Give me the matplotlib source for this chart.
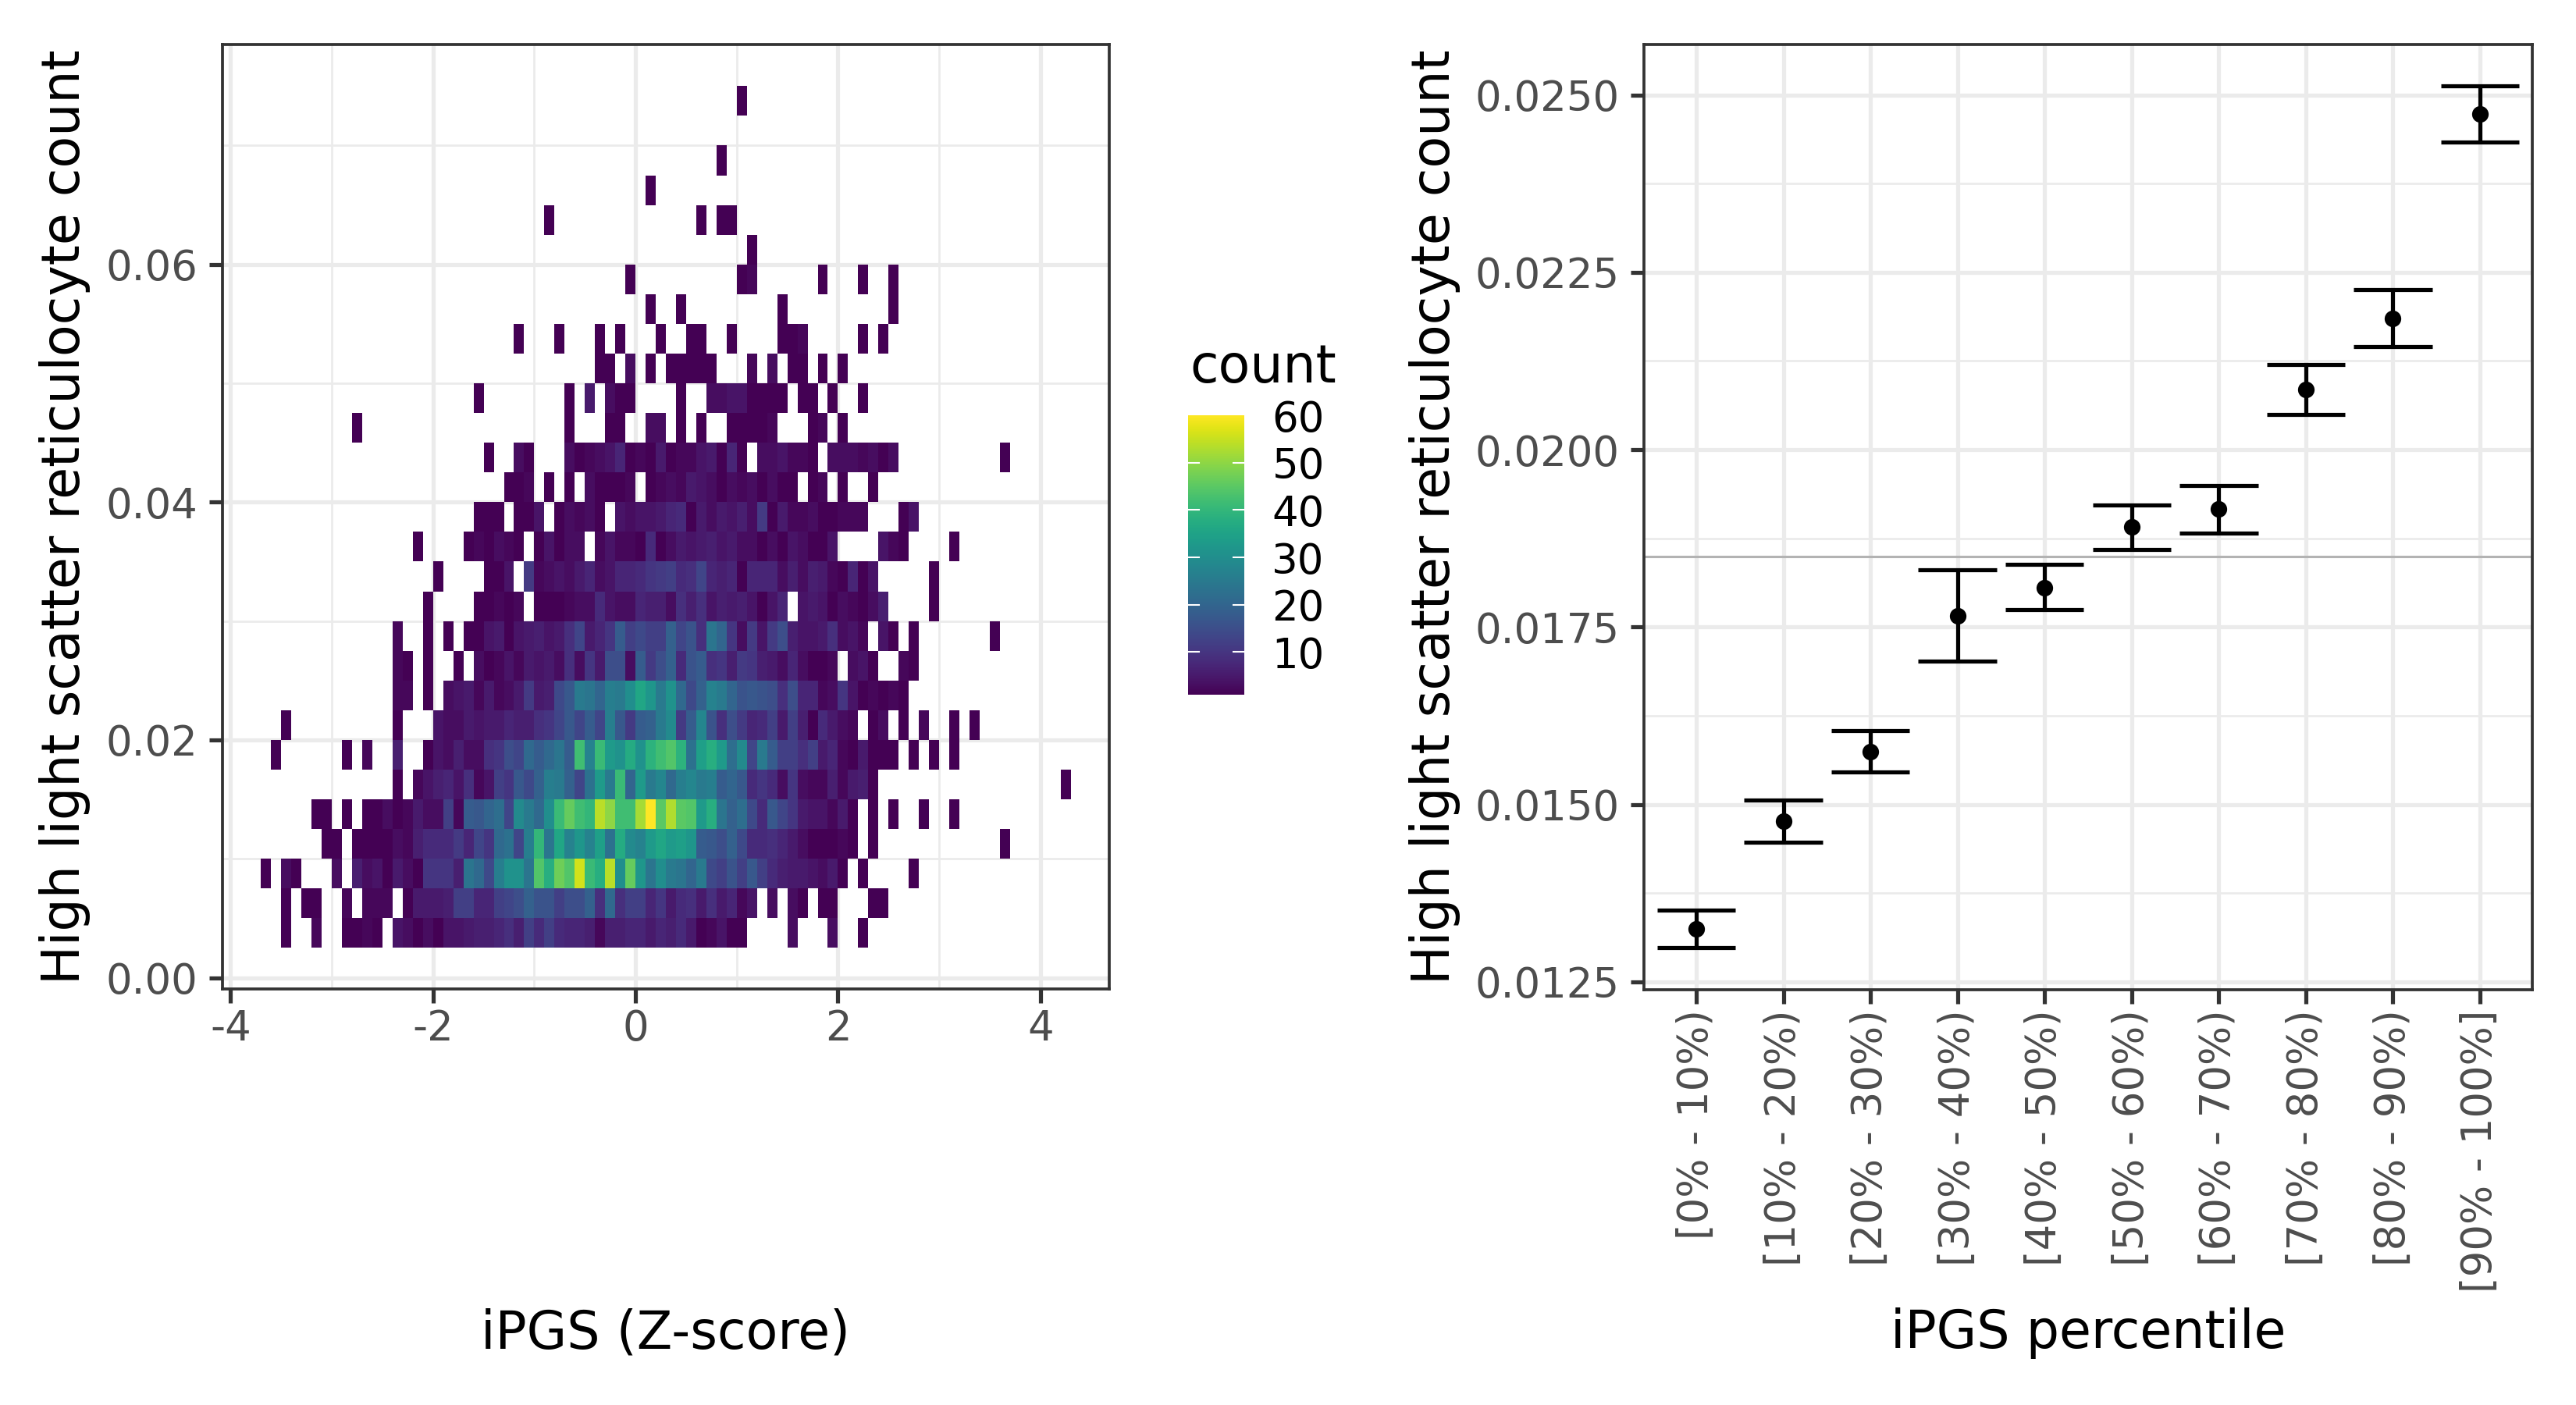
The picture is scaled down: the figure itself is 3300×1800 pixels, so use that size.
import numpy as np
import matplotlib
matplotlib.use('Agg')
import matplotlib.pyplot as plt

# 2d bin counts, one list per y bin: (first x bin, counts of that run)
# x bin = 0.1 wide, y bin = 0.0025 wide
row_01 = [(-35, [1]), (-32, [2]), (-29, [1, 1, 2, 1]),
          (-24, [4, 3, 1, 3, 1, 4, 4, 5, 6, 6, 7, 9, 6, 12, 8, 12, 8, 7, 7, 6, 2, 6, 6, 7,
                 7, 5, 7, 6, 8, 5, 1, 2, 4, 1, 1]),
          (15, [3]), (19, [3]), (22, [1])]
row_02 = [(-35, [1]), (-33, [1, 1]), (-29, [2]), (-27, [2, 2, 2]),
          (-23, [1, 5, 5, 5, 6, 12, 12, 7, 7, 12, 13, 15, 19, 16, 16, 12, 15, 15, 19, 9, 21, 9, 12,
                 12, 7, 10, 5, 8, 9, 5, 9, 5, 7, 2, 4]),
          (13, [3]), (15, [3, 1]), (18, [1, 1]), (23, [1, 1])]
row_03 = [(-37, [1]), (-35, [3, 1]), (-30, [3]),
          (-28, [6, 3, 4, 1, 5, 3, 1, 10, 10, 10, 6, 24, 21, 14, 26, 31, 31, 24, 44, 38, 47, 44, 56, 41, 38, 54, 30, 46,
                 32, 24, 30, 25, 24, 20, 25, 14, 12, 16, 12, 17, 12, 8, 6, 5, 5, 4, 3, 5, 1]),
          (22, [1]), (27, [1])]
row_04 = [(-31, [1, 1]),
          (-28, [1, 1, 1, 1, 3, 2, 6, 8, 8, 8, 11, 7, 13, 10, 21, 23, 13, 26, 40, 24, 36, 27, 32, 27, 34, 23, 37, 29,
                 27, 33, 36, 33, 34, 32, 18, 17, 15, 19, 14, 8, 8, 9, 7, 5, 3, 1, 1, 1, 2, 1]),
          (23, [1]), (36, [1])]
row_05 = [(-32, [1, 1]), (-29, [1]),
          (-27, [1, 1, 3, 1, 2, 5, 3, 3, 12, 2, 18, 17, 20, 22, 13, 29, 25, 21, 30, 41, 46, 42, 40, 54, 50, 42, 42,
                 52, 60, 45, 53, 45, 44, 33, 38, 24, 19, 22, 14, 8, 17, 13, 10, 5, 4, 4, 2, 5, 1]),
          (23, [1]), (25, [1]), (28, [1]), (31, [1])]
row_06 = [(-24, [1]),
          (-22, [2, 4, 6, 7, 4, 9, 2, 4, 12, 10, 17, 14, 19, 26, 25, 19, 13, 23, 33, 25, 41, 20,
                 33, 25, 28, 21, 26, 28, 25, 26, 18, 20, 17, 8, 10, 8, 3, 10, 3, 2, 2, 6, 2, 5, 6, 1]),
          (42, [1])]
row_07 = [(-36, [1]), (-29, [1]), (-27, [2]), (-24, [6]),
          (-21, [1, 4, 3, 6, 3, 3, 9, 10, 15, 13, 21, 18, 21, 24, 18, 42, 27, 41, 33, 31, 37,
                 31, 39, 42, 44, 39, 23, 34, 38, 33, 22, 29, 13, 25, 18, 12, 12, 9, 12, 5, 7, 2, 1, 5, 1, 1, 1]),
          (27, [1]), (29, [1]), (31, [1])]
row_08 = [(-35, [1]), (-24, [1]),
          (-20, [4, 3, 3, 5, 4, 5, 5, 7, 6, 6, 9, 10, 13, 17, 13, 18, 13, 26, 17, 11,
                 18, 19, 25, 29, 11, 18, 28, 16, 9, 15, 11, 7, 8, 12, 5, 12, 6, 1, 8, 5, 3, 2]),
          (23, [1, 3]), (26, [1]), (28, [2]), (31, [1]), (33, [1])]
row_09 = [(-24, [2, 2]), (-21, [1]),
          (-19, [3, 4, 5, 2, 5, 2, 3, 5, 11, 5, 6, 14, 17, 25, 24, 20, 26, 25, 30,
                 36, 32, 25, 31, 21, 14, 19, 27, 25, 20, 16, 17, 16, 15, 9, 15, 7, 7, 2, 3, 10, 4, 1, 2, 1, 2, 1])]
row_10 = [(-24, [2, 1]), (-21, [1]), (-18, [1]),
          (-16, [3, 1, 2, 4, 2, 5, 4, 5, 3, 9, 3, 10, 5, 15, 15, 3,
                 18, 11, 15, 19, 8, 16, 18, 9, 10, 6, 11, 10, 6, 5, 3, 7, 3, 1, 1, 2]),
          (21, [3, 4, 1]), (26, [2, 1])]
row_11 = [(-24, [2]), (-21, [1]), (-19, [1]),
          (-17, [1, 1, 4, 5, 1, 4, 5, 6, 4, 5, 9, 13, 5, 7, 10, 18, 12,
                 14, 12, 12, 19, 13, 16, 9, 24, 20, 10, 3, 11, 4, 11, 15, 6, 4, 4, 5, 9, 3, 4, 2]),
          (24, [4, 1]), (27, [1]), (35, [1])]
row_12 = [(-21, [1]), (-16, [1, 1, 2, 1, 2]),
          (-10, [1, 1, 1, 2, 3, 3, 8, 4, 3, 3,
                 7, 6, 6, 3, 9, 6, 9, 4, 6, 5, 6, 4, 1, 4, 7]),
          (16, [4, 5, 4, 1, 3, 2, 1, 3, 6]), (29, [1])]
row_13 = [(-20, [1]), (-15, [1, 1, 4]),
          (-11, [11, 2, 3, 4, 3, 5, 7, 3, 4, 7, 7,
                 8, 10, 11, 12, 8, 9, 13, 7, 6, 7, 1, 7, 7, 7, 3, 6, 3, 6, 5, 2, 1, 7, 1, 4]),
          (29, [1])]
row_14 = [(-22, [1]), (-17, [1, 2, 1, 3, 2, 1]), (-10, [1, 4, 1, 3, 3]),
          (-4, [2, 4, 2, 2, 1, 8, 1, 3, 5, 4, 5, 6, 4, 5, 3, 3, 1, 3, 1, 4, 3, 1, 1, 4]),
          (24, [4, 2, 1]), (31, [1])]
row_15 = [(-16, [1, 1, 1]), (-12, [1, 1, 4]), (-8, [1, 3, 2, 3, 1]),
          (-2, [4, 3, 4, 4, 5, 7, 8, 1, 5, 3, 5, 4, 6, 3, 11, 1, 5, 2, 2, 3, 1, 1, 2, 2, 2]),
          (26, [1, 4])]
row_16 = [(-13, [1, 1, 2]), (-9, [1]), (-7, [1]), (-5, [3, 1, 1, 1, 2]),
          (1, [1, 2, 3, 2, 5, 4, 3, 1, 3, 2, 3, 1, 3, 1, 1]), (17, [1, 2]), (20, [1]), (23, [1])]
row_17 = [(-15, [1]), (-12, [3, 1]),
          (-7, [3, 1, 2, 3, 4, 7, 1, 2, 1, 5, 1, 2, 2, 4, 5, 1, 7, 1]),
          (12, [3, 3, 4, 2, 2, 1]), (19, [3, 3, 3, 2, 3, 1, 3]), (36, [1])]
row_18 = [(-28, [1]), (-7, [1]), (-3, [1, 1]), (1, [3, 3]), (4, [1]), (6, [1]),
          (9, [1, 1, 1, 1, 2]), (17, [1, 2]), (20, [1])]
row_19 = [(-16, [1]), (-7, [1]), (-5, [5]), (-3, [3, 1, 1]), (4, [1]),
          (7, [3, 3, 4, 4, 1, 1, 1, 1]), (16, [1, 1]), (19, [1]), (22, [1])]
row_20 = [(-4, [1, 1]), (-1, [3]), (1, [1]), (3, [1, 1, 1, 1, 1]), (11, [2]), (13, [3]),
          (15, [1, 1]), (18, [1]), (20, [1])]
row_21 = [(-12, [1]), (-8, [1]), (-4, [1]), (-2, [1]), (2, [1]), (5, [1, 1]), (9, [1]),
          (14, [1, 1, 2]), (22, [1]), (24, [1])]
row_22 = [(1, [1]), (4, [1]), (14, [1]), (25, [1])]
row_23 = [(-1, [1]), (10, [1, 2]), (18, [1]), (22, [1]), (25, [1])]
row_24 = [(11, [1])]
row_25 = [(-9, [1]), (6, [1]), (8, [1, 1])]
row_26 = [(1, [1])]
row_27 = [(8, [1])]
row_28 = []
row_29 = [(10, [1])]
rows = [row_01, row_02, row_03, row_04, row_05, row_06, row_07, row_08, row_09, row_10,
        row_11, row_12, row_13, row_14, row_15, row_16, row_17, row_18, row_19, row_20,
        row_21, row_22, row_23, row_24, row_25, row_26, row_27, row_28, row_29]

percentiles = ['[0% - 10%)', '[10% - 20%)', '[20% - 30%)', '[30% - 40%)', '[40% - 50%)',
               '[50% - 60%)', '[60% - 70%)', '[70% - 80%)', '[80% - 90%)', '[90% - 100%]']
means = [0.01325, 0.01477, 0.01575, 0.01766, 0.01806, 0.01891, 0.01917, 0.02085, 0.02185, 0.02473]
lower = [0.01298, 0.01447, 0.01546, 0.01702, 0.01775, 0.01859, 0.01883, 0.02050, 0.02145, 0.02434]
upper = [0.01351, 0.01506, 0.01604, 0.01831, 0.01839, 0.01922, 0.01949, 0.02120, 0.02226, 0.02513]
overall_mean = 0.0185

ylab = 'High light scatter reticulocyte count'
W, H = 3300, 1800
GREY92 = '#EBEBEB'
GREY20 = '#333333'
GREY30 = '#4D4D4D'
TICK_SIZE = 12.7
TITLE_SIZE = 16.0
ERR_LW = 1.25


def panel(left, right, top, bottom):
    return fig.add_axes([left / W, 1 - bottom / H, (right - left) / W, (bottom - top) / H])


def style_axes(ax):
    ax.set_axisbelow(True)
    for s in ax.spines.values():
        s.set_color(GREY20)
        s.set_linewidth(0.9)
    ax.tick_params(which='major', color=GREY20, width=1.25, length=4.2,
                   labelcolor=GREY30, labelsize=TICK_SIZE)
    ax.tick_params(axis='y', which='major', pad=3.4)
    ax.tick_params(axis='x', which='major', pad=1.9)
    ax.tick_params(which='minor', length=0)
    ax.grid(True, which='major', color=GREY92, linewidth=1.25)
    ax.grid(True, which='minor', color=GREY92, linewidth=0.65)


fig = plt.figure(figsize=(11, 6), dpi=300)

# left: 2d histogram
ax1 = panel(285, 1421, 57, 1267)
xbins = np.arange(-37, 44)
grid = np.full((len(rows), len(xbins)), np.nan)
for i, row in enumerate(rows):
    for first, vals in row:
        for j, v in enumerate(vals):
            grid[i, first + j - xbins[0]] = v
xedges = np.append(xbins, xbins[-1] + 1) * 0.1
yedges = np.arange(1, len(rows) + 2) * 0.0025
mesh = ax1.pcolormesh(xedges, yedges, np.ma.masked_invalid(grid), cmap='viridis',
                      vmin=1, vmax=60, linewidth=0, antialiased=True)
ax1.set_xlim(-4.08, 4.68)
ax1.set_ylim(-0.00095, 0.0785)
ax1.set_xticks([-4, -2, 0, 2, 4])
ax1.set_xticklabels(['-4', '-2', '0', '2', '4'])
ax1.set_xticks([-3, -1, 1, 3], minor=True)
ax1.set_yticks([0, 0.02, 0.04, 0.06])
ax1.set_yticklabels(['0.00', '0.02', '0.04', '0.06'])
ax1.set_yticks([0.01, 0.03, 0.05, 0.07], minor=True)
style_axes(ax1)

# colour bar, drawn like the ggplot guide
cax = panel(1522, 1594, 532, 890)
cb = fig.colorbar(mesh, cax=cax, ticks=[10, 20, 30, 40, 50, 60])
cb.outline.set_visible(False)
cax.tick_params(length=0, labelsize=TICK_SIZE, labelcolor='black', pad=8.5)
for t in [10, 20, 30, 40, 50]:
    cax.plot([0, 0.2], [t, t], color='white', linewidth=0.5, transform=cax.get_yaxis_transform())
    cax.plot([0.8, 1], [t, t], color='white', linewidth=0.5, transform=cax.get_yaxis_transform())
fig.text(1524 / W, 1 - 490 / H, 'count', fontsize=TITLE_SIZE, ha='left', va='baseline')

# right: mean by percentile bin
ax2 = panel(2106, 3244, 57, 1268)
pos = np.arange(1, len(percentiles) + 1)
ax2.axhline(overall_mean, color='#B3B3B3', linewidth=0.75, zorder=2)
means_arr, lower_arr, upper_arr = np.array(means), np.array(lower), np.array(upper)
ax2.errorbar(pos, means_arr, yerr=[means_arr - lower_arr, upper_arr - means_arr], fmt='none',
             ecolor='black', elinewidth=ERR_LW, zorder=3)
ax2.hlines(lower, pos - 0.45, pos + 0.45, color='black', linewidth=ERR_LW, zorder=3)
ax2.hlines(upper, pos - 0.45, pos + 0.45, color='black', linewidth=ERR_LW, zorder=3)
ax2.plot(pos, means, 'o', color='black', markersize=5.1, markeredgewidth=0, zorder=4)
ax2.set_xlim(0.4, 10.6)
ax2.set_ylim(0.01239, 0.02571)
ax2.set_xticks(pos)
ax2.set_xticklabels(percentiles, rotation=90, ha='center', va='top')
ax2.set_yticks([0.0125, 0.0150, 0.0175, 0.0200, 0.0225, 0.0250])
ax2.set_yticklabels(['0.0125', '0.0150', '0.0175', '0.0200', '0.0225', '0.0250'])
ax2.set_yticks([0.01375, 0.01625, 0.01875, 0.02125, 0.02375], minor=True)
style_axes(ax2)
ax2.grid(False, which='minor', axis='x')

# axis titles are placed by hand to sit where the reference has them
fig.text(83 / W, 1 - 662 / H, ylab, rotation=90, fontsize=TITLE_SIZE, ha='center', va='center')
fig.text(1838 / W, 1 - 662 / H, ylab, rotation=90, fontsize=TITLE_SIZE, ha='center', va='center')
fig.text(853 / W, 1 - 1708 / H, 'iPGS (Z-score)', fontsize=TITLE_SIZE, ha='center', va='center')
fig.text(2675 / W, 1 - 1708 / H, 'iPGS percentile', fontsize=TITLE_SIZE, ha='center', va='center')

fig.savefig('out.png', dpi=300)
